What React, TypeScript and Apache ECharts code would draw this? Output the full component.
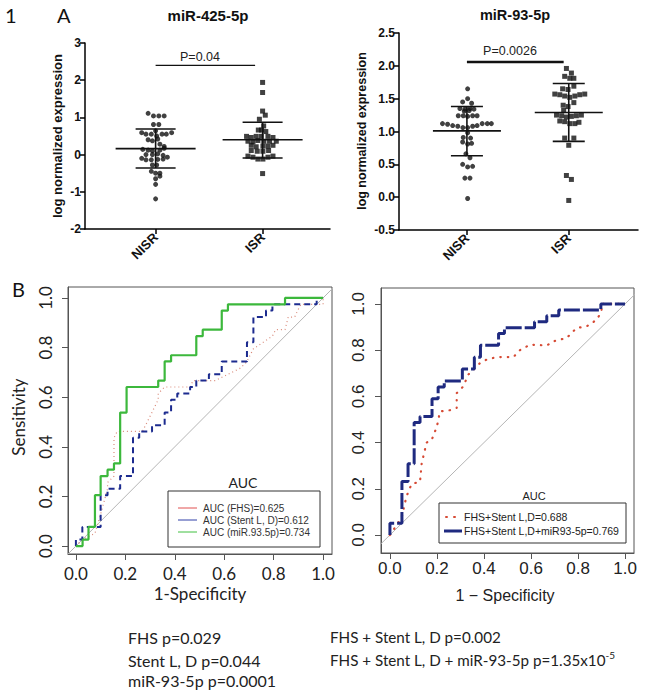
import React, { useEffect, useRef } from "react";
import * as echarts from "echarts";

// ---------- Panel A data ----------
const groups = ["NISR", "ISR"];
// [x jitter (axis units), value]
const nisr425 = [
  [-0.07, 1.11], [-0.02, 1.04], [0.03, 1.04], [0.08, 1.04],
  [-0.02, 0.81], [0.03, 0.81], [0.0, 0.64],
  [-0.13, 0.59], [-0.09, 0.55], [-0.04, 0.55], [0.01, 0.5], [0.06, 0.55], [0.1, 0.55], [0.15, 0.59],
  [-0.07, 0.4], [-0.03, 0.37], [0.02, 0.42],
  [0.04, 0.28], [0.08, 0.22],
  [-0.12, 0.14], [-0.07, 0.12], [-0.03, 0.1], [0.04, 0.12], [0.08, 0.17],
  [-0.09, 0.0], [-0.03, 0.0], [0.02, 0.02], [0.07, -0.02],
  [-0.13, -0.1], [-0.09, -0.14], [-0.04, -0.14], [0.02, -0.13], [0.07, -0.12], [0.11, -0.07],
  [-0.03, -0.28], [0.01, -0.28],
  [-0.04, -0.45], [0.0, -0.5], [0.04, -0.5],
  [0.0, -0.65], [0.04, -0.58],
  [0.0, -0.8], [0.0, -1.19],
];
const isr425 = [
  [0, 1.94], [0, 1.67], [0, 1.17], [0.025, 1.06], [-0.03, 0.95],
  [0.01, 0.77], [-0.04, 0.66], [-0.01, 0.66], [0.03, 0.62],
  [-0.15, 0.49], [-0.106, 0.46], [-0.06, 0.49], [-0.012, 0.49], [0.05, 0.49], [0.097, 0.46],
  [-0.137, 0.36], [-0.09, 0.34], [-0.044, 0.38], [0.012, 0.36], [0.065, 0.36], [0.128, 0.36],
  [-0.106, 0.25], [-0.06, 0.21], [0.003, 0.23], [0.05, 0.23], [0.097, 0.25],
  [-0.106, 0.11], [-0.05, 0.09], [0.003, 0.09], [0.056, 0.11],
  [-0.137, -0.04], [-0.09, -0.07], [-0.044, -0.12], [0.003, -0.12], [0.05, -0.07], [0.097, -0.04],
  [0, -0.51],
];
const nisr93 = [
  [0.007, 1.65], [0.007, 1.5], [-0.042, 1.45], [0.046, 1.43],
  [-0.069, 1.35], [-0.02, 1.34], [0.03, 1.35], [0.069, 1.34], [-0.026, 1.31], [0.023, 1.32],
  [-0.085, 1.24], [-0.036, 1.24], [0.007, 1.23], [0.056, 1.24], [0.1, 1.24],
  [-0.24, 1.12], [-0.19, 1.11], [-0.14, 1.09], [-0.09, 1.08], [-0.04, 1.06], [0.007, 1.06],
  [0.056, 1.08], [0.1, 1.09], [0.15, 1.12], [0.2, 1.12], [0.24, 1.12],
  [0.007, 0.98], [-0.036, 0.91], [0.036, 0.9],
  [-0.042, 0.84], [0.007, 0.81], [0.046, 0.82],
  [-0.01, 0.66], [0.03, 0.6],
  [-0.042, 0.5], [0.007, 0.46], [0.056, 0.47],
  [-0.02, 0.29], [0.03, 0.29],
  [0.007, -0.02],
];
const isr93 = [
  [-0.023, 1.96], [0.026, 1.89], [-0.04, 1.84], [0.01, 1.81], [0.05, 1.81],
  [-0.06, 1.65], [-0.007, 1.64], [0.05, 1.69],
  [-0.137, 1.57], [-0.088, 1.56], [-0.04, 1.54], [0.01, 1.52], [0.06, 1.54], [0.108, 1.56], [0.157, 1.57],
  [-0.055, 1.4], [-0.007, 1.38], [0.05, 1.44], [-0.05, 1.32],
  [-0.12, 1.25], [-0.07, 1.24], [-0.023, 1.22], [0.026, 1.23], [0.075, 1.24], [0.124, 1.25],
  [-0.088, 1.16], [-0.04, 1.15], [0.01, 1.12], [0.06, 1.12], [0.1, 1.14],
  [-0.04, 0.9], [0.05, 0.9], [0, 0.79],
  [-0.023, 0.33], [0.026, 0.27],
  [0, -0.05],
];
// [group position, mean, mean-SD, mean+SD]
const stats425 = [[1, 0.16, -0.36, 0.69], [2, 0.4, -0.09, 0.87]];
const stats93 = [[1, 1.01, 0.63, 1.38], [2, 1.29, 0.85, 1.73]];
const pBar425 = [[1, 2.4], [1.93, 2.4]];
const pBar93 = [[1, 2.06], [1.95, 2.06]];
const yTicks425 = { min: -2, max: 3, interval: 1 };
const yTicks93 = { min: -0.5, max: 2.5, interval: 0.5 };

// ---------- Panel B data (1-specificity, sensitivity) ----------
const rocFHS = [[0, 0], [0.026, 0.026], [0.077, 0.051], [0.1, 0.128], [0.128, 0.231], [0.128, 0.256], [0.154, 0.282], [0.154, 0.436], [0.167, 0.462], [0.269, 0.462], [0.295, 0.513], [0.333, 0.59], [0.333, 0.615], [0.359, 0.641], [0.462, 0.641], [0.474, 0.667], [0.564, 0.667], [0.615, 0.692], [0.667, 0.718], [0.692, 0.744], [0.718, 0.795], [0.795, 0.846], [0.808, 0.872], [0.846, 0.872], [0.859, 0.923], [0.885, 0.923], [0.897, 0.949], [0.91, 0.974], [1, 0.974], [1, 1]];
const rocStent = [[0, 0], [0, 0.026], [0.026, 0.026], [0.026, 0.077], [0.1, 0.077], [0.1, 0.205], [0.128, 0.205], [0.128, 0.231], [0.179, 0.231], [0.179, 0.282], [0.231, 0.282], [0.231, 0.436], [0.256, 0.436], [0.256, 0.462], [0.308, 0.462], [0.308, 0.487], [0.359, 0.487], [0.359, 0.538], [0.385, 0.538], [0.385, 0.59], [0.41, 0.59], [0.41, 0.615], [0.462, 0.615], [0.462, 0.641], [0.487, 0.641], [0.487, 0.667], [0.538, 0.667], [0.538, 0.692], [0.59, 0.692], [0.59, 0.744], [0.692, 0.744], [0.692, 0.821], [0.718, 0.821], [0.718, 0.923], [0.769, 0.923], [0.769, 0.949], [0.795, 0.949], [0.795, 0.974], [0.974, 0.974], [0.974, 1], [1, 1]];
const rocMiR = [[0, 0], [0.027, 0], [0.027, 0.026], [0.051, 0.026], [0.051, 0.077], [0.077, 0.077], [0.077, 0.205], [0.1, 0.205], [0.1, 0.282], [0.128, 0.282], [0.128, 0.308], [0.154, 0.308], [0.154, 0.333], [0.179, 0.333], [0.179, 0.538], [0.205, 0.538], [0.205, 0.641], [0.333, 0.641], [0.333, 0.667], [0.359, 0.667], [0.359, 0.744], [0.385, 0.744], [0.385, 0.769], [0.487, 0.769], [0.487, 0.846], [0.513, 0.846], [0.513, 0.872], [0.59, 0.872], [0.59, 0.949], [0.615, 0.949], [0.615, 0.974], [0.846, 0.974], [0.846, 1], [1, 1]];
const rocFHSStent = [[0, 0], [0.02, 0.03], [0.05, 0.077], [0.07, 0.166], [0.092, 0.221], [0.128, 0.23], [0.135, 0.31], [0.156, 0.4], [0.177, 0.41], [0.2, 0.47], [0.213, 0.535], [0.255, 0.54], [0.284, 0.55], [0.284, 0.614], [0.312, 0.643], [0.333, 0.694], [0.355, 0.715], [0.383, 0.744], [0.411, 0.759], [0.454, 0.77], [0.525, 0.77], [0.553, 0.8], [0.596, 0.824], [0.667, 0.82], [0.695, 0.838], [0.752, 0.853], [0.794, 0.896], [0.837, 0.903], [0.88, 0.932], [0.9, 0.968], [0.9, 1], [1, 1]];
const rocFHSStentMiR = [[0, 0], [0, 0.051], [0.051, 0.051], [0.051, 0.231], [0.077, 0.231], [0.077, 0.308], [0.103, 0.308], [0.103, 0.487], [0.128, 0.487], [0.128, 0.513], [0.179, 0.513], [0.179, 0.59], [0.205, 0.59], [0.205, 0.641], [0.231, 0.641], [0.231, 0.667], [0.308, 0.667], [0.308, 0.718], [0.359, 0.718], [0.359, 0.769], [0.385, 0.769], [0.385, 0.821], [0.462, 0.821], [0.462, 0.872], [0.487, 0.872], [0.487, 0.897], [0.615, 0.897], [0.615, 0.923], [0.667, 0.923], [0.667, 0.949], [0.718, 0.949], [0.718, 0.974], [0.897, 0.974], [0.897, 1], [1, 1]];
const diagonal = [[-0.2, -0.2], [1.2, 1.2]];
const rocTicks = [0, 0.2, 0.4, 0.6, 0.8, 1];

const legendLeft = ["AUC (FHS)=0.625", "AUC (Stent L, D)=0.612", "AUC (miR.93.5p)=0.734"];
const legendRight = ["FHS+Stent L,D=0.688", "FHS+Stent L,D+miR93-5p=0.769"];
const notesLeft = ["FHS p=0.029", "Stent L, D p=0.044", "miR-93-5p p=0.0001"];
const notesRight = ["FHS + Stent L, D p=0.002", "FHS + Stent L, D + miR-93-5p p=1.35x10"];

const ARIAL = "Liberation Sans";
const LATO = "Lato";

function jitter(pts: number[][], center: number) {
  return pts.map(([dx, v]) => [center + dx, v]);
}

function errorBars(idx: number, meanHalf: number, capHalf: number) {
  return {
    type: "custom",
    xAxisIndex: idx,
    yAxisIndex: idx,
    z: 5,
    renderItem: (params: any, api: any) => {
      const x = api.value(0);
      const c = api.coord([x, api.value(1)]);
      const lo = api.coord([x, api.value(2)]);
      const hi = api.coord([x, api.value(3)]);
      const st = { stroke: "#111", lineWidth: 1.6 };
      return {
        type: "group",
        children: [
          { type: "line", shape: { x1: c[0] - meanHalf, y1: c[1], x2: c[0] + meanHalf, y2: c[1] }, style: st },
          { type: "line", shape: { x1: lo[0], y1: lo[1], x2: hi[0], y2: hi[1] }, style: st },
          { type: "line", shape: { x1: lo[0] - capHalf, y1: lo[1], x2: lo[0] + capHalf, y2: lo[1] }, style: st },
          { type: "line", shape: { x1: hi[0] - capHalf, y1: hi[1], x2: hi[0] + capHalf, y2: hi[1] }, style: st },
        ],
      };
    },
  };
}

function scatterAxisX(idx: number, min: number, max: number) {
  return {
    type: "value",
    gridIndex: idx,
    min,
    max,
    axisLine: { show: true, onZero: false, lineStyle: { color: "#000", width: 1.5 } },
    axisTick: { show: true, customValues: [1, 2], length: 5, lineStyle: { color: "#000", width: 1.5 } },
    axisLabel: {
      customValues: [1, 2],
      rotate: 45,
      formatter: (v: number) => groups[Math.round(v) - 1] || "",
      fontFamily: ARIAL,
      fontWeight: "bold",
      fontSize: 13,
      color: "#111",
      margin: 6,
    },
    splitLine: { show: false },
  };
}

function scatterAxisY(idx: number, t: any, digits: number) {
  return {
    type: "value",
    gridIndex: idx,
    min: t.min,
    max: t.max,
    interval: t.interval,
    axisLine: { show: true, onZero: false, lineStyle: { color: "#000", width: 1.5 } },
    axisTick: { show: true, length: 5, lineStyle: { color: "#000", width: 1.5 } },
    axisLabel: {
      formatter: (v: number) => v.toFixed(digits),
      fontFamily: ARIAL,
      fontWeight: "bold",
      fontSize: 12,
      color: "#111",
      margin: 4,
    },
    splitLine: { show: false },
  };
}

function rocAxisX(idx: number, min: number, max: number, font: string, margin: number) {
  return {
    type: "value",
    gridIndex: idx,
    min,
    max,
    axisLine: { show: true, onZero: false, lineStyle: { color: "#555", width: 1 } },
    axisTick: { show: true, customValues: rocTicks, length: 6, lineStyle: { color: "#555" } },
    axisLabel: {
      customValues: rocTicks,
      formatter: (v: number) => v.toFixed(1),
      fontFamily: font,
      fontSize: 17,
      color: "#222",
      margin,
    },
    splitLine: { show: false },
  };
}

function rocAxisY(idx: number, min: number, max: number, font: string, margin: number) {
  return {
    type: "value",
    gridIndex: idx,
    min,
    max,
    axisLine: { show: true, onZero: false, lineStyle: { color: "#555", width: 1 } },
    axisTick: { show: true, customValues: rocTicks, length: 6, lineStyle: { color: "#555" } },
    axisLabel: {
      customValues: rocTicks,
      rotate: 90,
      formatter: (v: number) => v.toFixed(1),
      fontFamily: font,
      fontSize: 17,
      color: "#222",
      margin,
    },
    splitLine: { show: false },
  };
}

function lineSeries(idx: number, data: number[][], color: string, width: number, dash: any, z = 3, cap = "butt") {
  return {
    type: "line",
    xAxisIndex: idx,
    yAxisIndex: idx,
    data,
    showSymbol: false,
    symbol: "none",
    clip: true,
    z,
    lineStyle: { color, width, type: dash, cap },
  };
}

function txt(x: number, y: number, text: string, o: any = {}) {
  return {
    type: "text",
    x,
    y,
    rotation: o.rotation || 0,
    z: 100,
    style: {
      text,
      fill: o.color || "#111",
      fontFamily: o.family || ARIAL,
      fontSize: o.size || 12,
      fontWeight: o.weight || "normal",
      textAlign: o.align || "left",
      textVerticalAlign: "middle",
      align: o.align || "left",
      verticalAlign: "middle",
      rich: o.rich,
    },
  };
}

export default function App() {
  const ref = useRef<HTMLDivElement>(null);
  useEffect(() => {
    if (!ref.current) return;
    const chart = echarts.init(ref.current, null, { renderer: "svg" });
    const grid = (left: number, top: number, width: number, height: number, border: boolean) => ({
      left,
      top,
      width,
      height,
      containLabel: false,
      outerBoundsMode: "none",
      show: border,
      borderColor: "#555",
      borderWidth: 1,
      backgroundColor: "transparent",
    });

    const legendColorsL = ["#e05050", "#3040a8", "#40c040"];
    const graphicEls: any[] = [
      txt(5, 15, "1", { family: LATO, size: 20 }),
      txt(57, 15, "A", { family: LATO, size: 20 }),
      txt(208, 15, "miR-425-5p", { weight: "bold", size: 15, align: "center" }),
      txt(515, 15, "miR-93-5p", { weight: "bold", size: 14.5, align: "center" }),
      txt(57, 136, "log normalized expression", { weight: "bold", size: 13, align: "center", rotation: Math.PI / 2 }),
      txt(362, 131, "log normalized expression", { weight: "bold", size: 12.5, align: "center", rotation: Math.PI / 2 }),
      txt(200, 57, "P=0.04", { size: 12.5, align: "center", color: "#222" }),
      txt(510, 51, "P=0.0026", { size: 12.5, align: "center", color: "#222" }),
      txt(12, 289, "B", { family: LATO, size: 20 }),
      txt(18, 417, "Sensitivity", { family: LATO, size: 17, align: "center", rotation: Math.PI / 2, color: "#222" }),
      txt(200, 593, "1-Specificity", { family: LATO, size: 17, align: "center", color: "#222" }),
      txt(505, 595, "1 \u2212 Specificity", { size: 16, align: "center", color: "#222" }),
      // left legend
      txt(243, 482, "AUC", { family: LATO, size: 14, align: "center", color: "#222" }),
      { type: "rect", z: 99, shape: { x: 168, y: 491, width: 152, height: 56 }, style: { fill: "#fff", stroke: "#333", lineWidth: 1 } },
      ...legendLeft.map((t, i) => ({
        type: "line",
        z: 100,
        shape: { x1: 178, y1: 508 + i * 12, x2: 197, y2: 508 + i * 12 },
        style: { stroke: legendColorsL[i], lineWidth: 1 },
      })),
      ...legendLeft.map((t, i) => txt(203, 508 + i * 12, t, { size: 10, color: "#333" })),
      // right legend
      txt(534, 496, "AUC", { size: 11, align: "center", color: "#222" }),
      { type: "rect", z: 99, shape: { x: 439, y: 503, width: 187, height: 40 }, style: { fill: "#fff", stroke: "#333", lineWidth: 1 } },
      { type: "line", z: 100, shape: { x1: 446, y1: 517, x2: 462, y2: 517 }, style: { stroke: "#d64a34", lineWidth: 2, lineDash: [1, 7], lineCap: "round" } },
      { type: "line", z: 100, shape: { x1: 444, y1: 531, x2: 462, y2: 531 }, style: { stroke: "#1f2a80", lineWidth: 3 } },
      txt(464, 517, legendRight[0], { size: 10.5, color: "#222" }),
      txt(464, 531, legendRight[1], { size: 10.5, color: "#222" }),
      // notes
      ...notesLeft.map((t, i) => txt(128, [637, 660, 680][i], t, { family: LATO, size: 16, color: "#222" })),
      txt(330, 637, notesRight[0], { family: LATO, size: 15.2, color: "#222" }),
      txt(330, 660, "{a|" + notesRight[1] + "}{b|-5}", {
        family: LATO,
        size: 15.2,
        color: "#222",
        rich: {
          a: { fontFamily: LATO, fontSize: 15.2, lineHeight: 20, fill: "#222", color: "#222" },
          b: { fontFamily: LATO, fontSize: 10, lineHeight: 10, verticalAlign: "top", fill: "#222", color: "#222" },
        },
      }),
    ];

    const option: any = {
      animation: false,
      backgroundColor: "#fff",
      grid: [
        grid(85, 43, 245, 186, false),
        grid(399, 33, 239, 197, false),
        grid(68, 287, 264, 267, true),
        grid(381, 288, 253, 265, true),
      ],
      xAxis: [
        scatterAxisX(0, 0.34, 2.63),
        scatterAxisX(1, 0.333, 2.68),
        rocAxisX(2, -0.032, 1.036, LATO, 11),
        rocAxisX(3, -0.038, 1.038, ARIAL, 7),
      ],
      yAxis: [
        scatterAxisY(0, yTicks425, 0),
        scatterAxisY(1, yTicks93, 1),
        rocAxisY(2, -0.032, 1.044, LATO, 14),
        rocAxisY(3, -0.078, 1.069, ARIAL, 14),
      ],
      series: [
        { type: "scatter", xAxisIndex: 0, yAxisIndex: 0, data: jitter(nisr425, 1), symbol: "circle", symbolSize: 5, itemStyle: { color: "#111" } },
        { type: "scatter", xAxisIndex: 0, yAxisIndex: 0, data: jitter(isr425, 2), symbol: "rect", symbolSize: 5, itemStyle: { color: "#111" } },
        { type: "scatter", xAxisIndex: 1, yAxisIndex: 1, data: jitter(nisr93, 1), symbol: "circle", symbolSize: 5, itemStyle: { color: "#111" } },
        { type: "scatter", xAxisIndex: 1, yAxisIndex: 1, data: jitter(isr93, 2), symbol: "rect", symbolSize: 5, itemStyle: { color: "#111" } },
        { ...errorBars(0, 40, 20), data: stats425 },
        { ...errorBars(1, 34, 16), data: stats93 },
        lineSeries(0, pBar425, "#111", 1.2, "solid"),
        lineSeries(1, pBar93, "#111", 2.5, "solid"),
        lineSeries(2, diagonal, "#b5b5b5", 1, "solid", 1),
        lineSeries(3, diagonal, "#b5b5b5", 1, "solid", 1),
        lineSeries(2, rocFHS, "#d98a7a", 1.2, [1, 3], 2),
        lineSeries(2, rocStent, "#1c2b8f", 2, [6, 4], 3),
        lineSeries(2, rocMiR, "#3cb83c", 2.2, "solid", 4),
        lineSeries(3, rocFHSStent, "#d64a34", 2.2, [0.5, 7], 2, "round"),
        lineSeries(3, rocFHSStentMiR, "#1f2a80", 3, [16, 3], 3),
      ],
      graphic: { elements: graphicEls },
    };
    chart.setOption(option);
    return () => chart.dispose();
  }, []);
  return <div ref={ref} style={{ position: "fixed", left: 0, top: 0, width: 669, height: 691, background: "#fff" }} />;
}
